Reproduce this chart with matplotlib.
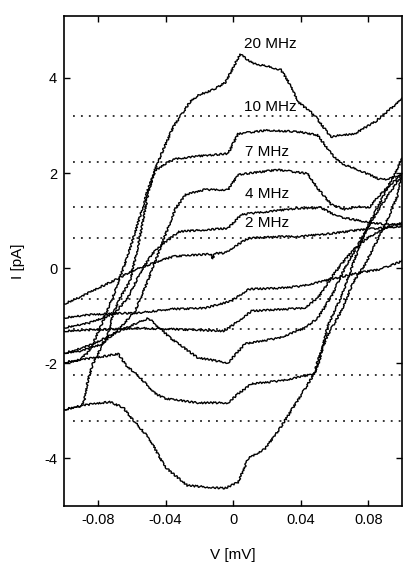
import matplotlib
matplotlib.use("Agg")
import matplotlib.pyplot as plt

plt.rcParams['font.family'] = ['Liberation Sans', 'DejaVu Sans']

# Bloch-step levels I = 2ef (pA) for 2, 4, 7, 10 MHz
step_levels = [0.641, 1.282, 2.243, 3.204]

# hysteresis loops: upper (U) and lower (L) branches, V in mV, I in pA
v_20u = [-0.1, -0.09, -0.088, -0.086, -0.083, -0.08, -0.074, -0.071, -0.067, -0.061,
         -0.056, -0.05, -0.046, -0.0425, -0.035, -0.0254, -0.0206, -0.012, -0.0047,
         0.0041, 0.012, 0.02, 0.0283, 0.033, 0.0383, 0.048, 0.0578, 0.064, 0.072,
         0.084, 0.093, 0.1]
i_20u = [-2.97, -2.9, -2.79, -2.37, -2.01, -1.8, -1.38, -0.96, -0.63, -0.27,
         0.5, 1.61, 2.1, 2.4, 3.0, 3.5, 3.64, 3.75, 3.9,
         4.5, 4.3, 4.25, 4.17, 3.9, 3.5, 3.22, 2.76, 2.8, 2.83,
         3.08, 3.35, 3.56]
v_20l = [-0.1, -0.09, -0.082, -0.073, -0.065, -0.059, -0.05, -0.04, -0.027, -0.005,
         0.003, 0.009, 0.019, 0.028, 0.038, 0.048, 0.051, 0.056, 0.064, 0.072,
         0.08, 0.09, 0.1]
i_20l = [-2.97, -2.89, -2.85, -2.81, -2.93, -3.2, -3.56, -4.19, -4.57, -4.63,
         -4.5, -4.0, -3.79, -3.35, -2.79, -2.22, -1.95, -1.2, -0.6, 0.2,
         0.9, 1.6, 2.3]

v_10u = [-0.1, -0.092, -0.085, -0.078, -0.07, -0.062, -0.055, -0.05, -0.046, -0.04,
         -0.034, -0.02, -0.003, 0.003, 0.02, 0.038, 0.05, 0.058, 0.064, 0.074,
         0.086, 0.091, 0.1]
i_10u = [-1.98, -1.95, -1.75, -1.2, -0.5, 0.3, 1.1, 1.7, 2.05, 2.2,
         2.3, 2.36, 2.41, 2.83, 2.9, 2.87, 2.8, 2.41, 2.2, 2.07,
         1.88, 1.86, 1.97]
v_10l = [-0.1, -0.09, -0.081, -0.068, -0.063, -0.055, -0.046, -0.04, -0.021, -0.003,
         0.003, 0.011, 0.028, 0.048, 0.05, 0.056, 0.064, 0.071, 0.078, 0.09,
         0.097, 0.1]
i_10l = [-1.98, -1.92, -1.88, -1.8, -2.05, -2.3, -2.64, -2.74, -2.83, -2.83,
         -2.64, -2.43, -2.37, -2.22, -1.95, -1.4, -0.9, -0.3, 0.08, 0.92,
         1.5, 1.97]

v_7u = [-0.1, -0.09, -0.078, -0.068, -0.058, -0.052, -0.046, -0.04, -0.034, -0.028,
        -0.017, -0.003, 0.003, 0.027, 0.044, 0.05, 0.058, 0.066, 0.074, 0.08,
        0.087, 0.093, 0.1]
i_7u = [-1.78, -1.74, -1.6, -1.3, -0.9, -0.4, 0.15, 0.71, 1.26, 1.55,
        1.65, 1.65, 1.97, 2.07, 1.99, 1.68, 1.34, 1.24, 1.3, 1.26,
        1.55, 1.76, 1.97]
v_7l = [-0.1, -0.095, -0.083, -0.072, -0.06, -0.05, -0.037, -0.021, -0.003, 0.007,
        0.027, 0.042, 0.05, 0.058, 0.066, 0.074, 0.082, 0.09, 0.1]
i_7l = [-1.78, -1.74, -1.6, -1.4, -1.2, -1.05, -1.47, -1.88, -1.99, -1.59,
        -1.47, -1.26, -1.05, -0.6, 0.0, 0.5, 1.0, 1.45, 1.97]

v_4u = [-0.1, -0.085, -0.07, -0.062, -0.055, -0.048, -0.042, -0.032, -0.003, 0.005,
        0.038, 0.052, 0.062, 0.07, 0.078, 0.09, 0.1]
i_4u = [-1.25, -1.15, -0.95, -0.6, -0.1, 0.3, 0.5, 0.77, 0.84, 1.13,
        1.26, 1.27, 1.09, 1.03, 0.98, 0.92, 0.92]
v_4l = [-0.1, -0.056, -0.037, -0.005, 0.003, 0.011, 0.042, 0.05, 0.06, 0.07,
        0.08, 0.09, 0.1]
i_4l = [-1.32, -1.26, -1.28, -1.32, -1.11, -0.9, -0.84, -0.63, -0.1, 0.35,
        0.65, 0.85, 0.95]

v_2u = [-0.1, -0.09, -0.08, -0.07, -0.06, -0.054, -0.044, -0.035, -0.017, -0.013,
        -0.012, -0.011, -0.005, 0.001, 0.009, 0.025, 0.04, 0.058, 0.078, 0.1]
i_2u = [-0.75, -0.6, -0.42, -0.25, -0.06, 0.02, 0.15, 0.25, 0.29, 0.3,
        0.2, 0.31, 0.32, 0.46, 0.63, 0.66, 0.67, 0.73, 0.82, 0.88]
v_2l = [-0.1, -0.085, -0.07, -0.056, -0.037, -0.017, -0.001, 0.009, 0.027, 0.04,
        0.058, 0.074, 0.087, 0.1]
i_2l = [-1.04, -0.98, -0.95, -0.94, -0.86, -0.84, -0.69, -0.44, -0.42, -0.38,
        -0.23, -0.1, -0.02, 0.15]

branches = [(v_20u, i_20u), (v_20l, i_20l), (v_10u, i_10u), (v_10l, i_10l),
            (v_7u, i_7u), (v_7l, i_7l), (v_4u, i_4u), (v_4l, i_4l),
            (v_2u, i_2u), (v_2l, i_2l)]

labels = ['20 MHz', '10 MHz', '7 MHz', '4 MHz', '2 MHz']
label_v = [0.022, 0.022, 0.020, 0.020, 0.020]
label_i = [4.71, 3.39, 2.45, 1.57, 0.96]

fig = plt.figure(figsize=(4.03, 5.65), dpi=100)
ax = fig.add_axes([0.159, 0.1044, 0.839, 0.867])

for lvl in step_levels:
    for s in (1, -1):
        ax.plot([-0.095, 0.1], [s * lvl, s * lvl], color='black',
                linestyle=(0, (1.2, 4)), linewidth=1.1)

for v, i in branches:
    ln, = ax.plot(v, i, color='black', linewidth=1.0)
    ln.set_sketch_params(scale=0.9, length=2.5, randomness=3)

for txt, x, y in zip(labels, label_v, label_i):
    ax.text(x, y, txt, ha='center', va='center', fontsize=11)

ax.set_xlim(-0.1, 0.1)
ax.set_ylim(-5, 5.3)
ax.set_xticks([-0.08, -0.04, 0, 0.04, 0.08])
ax.set_xticklabels(['-0.08', '-0.04', '0', '0.04', '0.08'])
ax.set_yticks([-4, -2, 0, 2, 4])
ax.set_yticklabels(['-4', '-2', '0', '2', '4'])
ax.tick_params(direction='in', top=True, right=True, length=4, width=1,
               labelsize=10.5, pad=5)
for sp in ax.spines.values():
    sp.set_linewidth(1.2)

ax.set_xlabel('V [mV]', fontsize=11, labelpad=15)
ax.set_ylabel('I [pA]', fontsize=11, labelpad=14)

fig.savefig('out.png', dpi=100)
